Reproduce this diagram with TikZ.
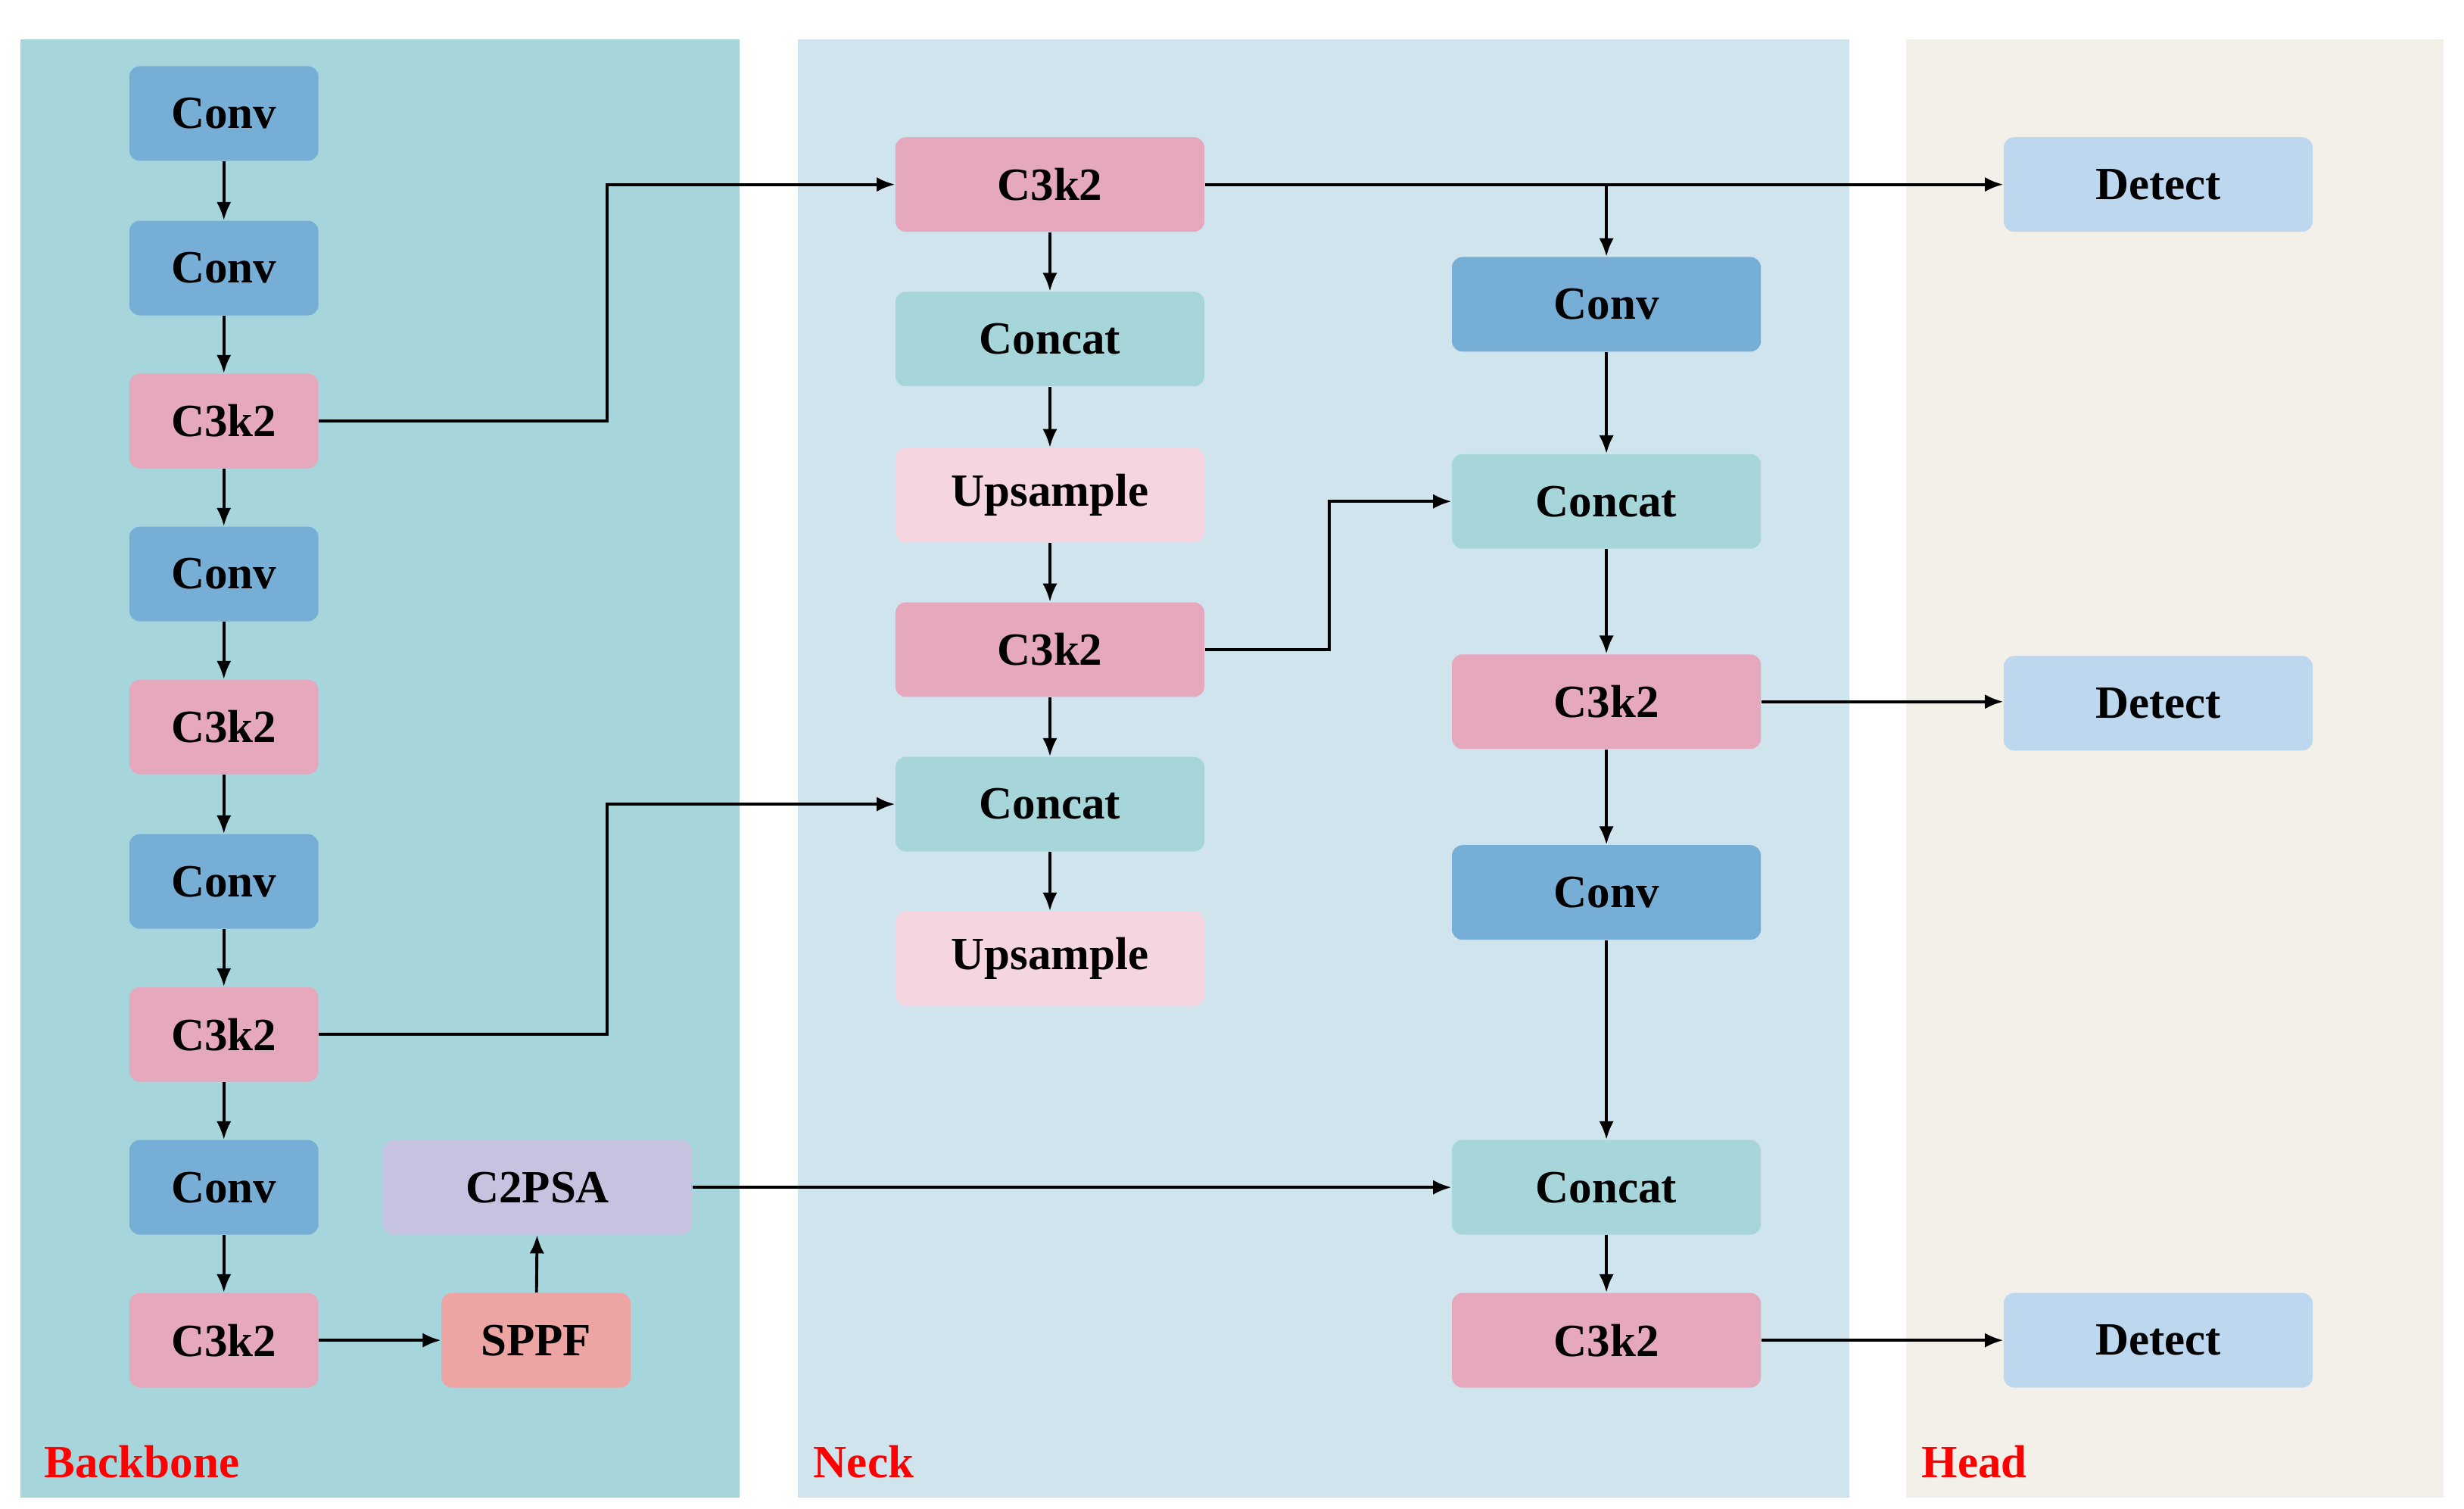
\documentclass[tikz,border=0pt]{standalone}
\usepackage{fontspec}
\setmainfont{Liberation Serif}
\usetikzlibrary{arrows.meta}
\definecolor{bbg}{HTML}{A6D5DB}
\definecolor{nbg}{HTML}{D0E4EE}
\definecolor{hbg}{HTML}{F3F0EA}
\definecolor{cconv}{HTML}{77AED5}
\definecolor{cc3}{HTML}{E6A8BD}
\definecolor{ccat}{HTML}{A6D6DA}
\definecolor{cup}{HTML}{F4D5E0}
\definecolor{csppf}{HTML}{EDA5A3}
\definecolor{cpsa}{HTML}{C5C3E0}
\definecolor{cdet}{HTML}{BDD7EE}
\begin{document}
\begin{tikzpicture}[x=0.03cm,y=-0.03cm,
  box/.style={draw=none,rounded corners=0.2cm,minimum height=1.8cm,font=\fontsize{25}{30}\selectfont\bfseries,text=black},
  sm/.style={box,minimum width=3.6cm},
  wd/.style={box,minimum width=5.88cm},
  lab/.style={anchor=west,text=red,font=\fontsize{25}{30}\selectfont\bfseries},
  ar/.style={-{Latex[length=0.35cm,width=0.28cm]},line width=1.6pt}]
\useasboundingbox (0,0) rectangle (1563,957);
\fill[white] (0,0) rectangle (1563,957);
\fill[bbg] (13,25) rectangle (469,950);
\fill[nbg] (506,25) rectangle (1173,950);
\fill[hbg] (1209,25) rectangle (1550,950);
\node[lab] (lb) at (24,927) {Backbone};
\node[lab] (ln) at (512,927) {Neck};
\node[lab] (lh) at (1215,927) {Head};
% backbone
\node[sm,fill=cconv] (b1) at (142,72) {Conv};
\node[sm,fill=cconv] (b2) at (142,170) {Conv};
\node[sm,fill=cc3] (b3) at (142,267) {C3k2};
\node[sm,fill=cconv] (b4) at (142,364) {Conv};
\node[sm,fill=cc3] (b5) at (142,461) {C3k2};
\node[sm,fill=cconv] (b6) at (142,559) {Conv};
\node[sm,fill=cc3] (b7) at (142,656) {C3k2};
\node[sm,fill=cconv] (b8) at (142,753) {Conv};
\node[sm,fill=cc3] (b9) at (142,850) {C3k2};
\node[sm,fill=csppf] (sppf) at (340,850) {SPPF};
\node[wd,fill=cpsa] (psa) at (341,753) {C2PSA};
% neck col1
\node[wd,fill=cc3] (n1) at (666,117) {C3k2};
\node[wd,fill=ccat] (n2) at (666,215) {Concat};
\node[wd,fill=cup] (n3) at (666,314) {Upsample};
\node[wd,fill=cc3] (n4) at (666,412) {C3k2};
\node[wd,fill=ccat] (n5) at (666,510) {Concat};
\node[wd,fill=cup] (n6) at (666,608) {Upsample};
% neck col2
\node[wd,fill=cconv] (m1) at (1019,193) {Conv};
\node[wd,fill=ccat] (m2) at (1019,318) {Concat};
\node[wd,fill=cc3] (m3) at (1019,445) {C3k2};
\node[wd,fill=cconv] (m4) at (1019,566) {Conv};
\node[wd,fill=ccat] (m5) at (1019,753) {Concat};
\node[wd,fill=cc3] (m6) at (1019,850) {C3k2};
% head
\node[wd,fill=cdet] (d1) at (1369,117) {Detect};
\node[wd,fill=cdet] (d2) at (1369,446) {Detect};
\node[wd,fill=cdet] (d3) at (1369,850) {Detect};
% arrows
\foreach \a/\b in {b1/b2,b2/b3,b3/b4,b4/b5,b5/b6,b6/b7,b7/b8,b8/b9,n1/n2,n2/n3,n3/n4,n4/n5,n5/n6,m1/m2,m2/m3,m3/m4,m4/m5,m5/m6}
  \draw[ar] (\a) -- (\b);
\draw[ar] (b9) -- (sppf);
\draw[ar] (sppf) -- (psa);
\draw[ar] (psa) -- (m5);
\draw[ar] (b3.east) -- (385,267) |- (n1.west);
\draw[ar] (b7.east) -- (385,656) |- (n5.west);
\draw[ar] (n4.east) -- (843,412) |- (m2.west);
\draw[ar] (n1) -- (d1);
\coordinate (br) at (1019,117);
\draw[ar] (br) -- (m1);
\draw[ar] (m3.east) -- (d2.west|-m3.east);
\draw[ar] (m6) -- (d3);
\end{tikzpicture}
\end{document}
